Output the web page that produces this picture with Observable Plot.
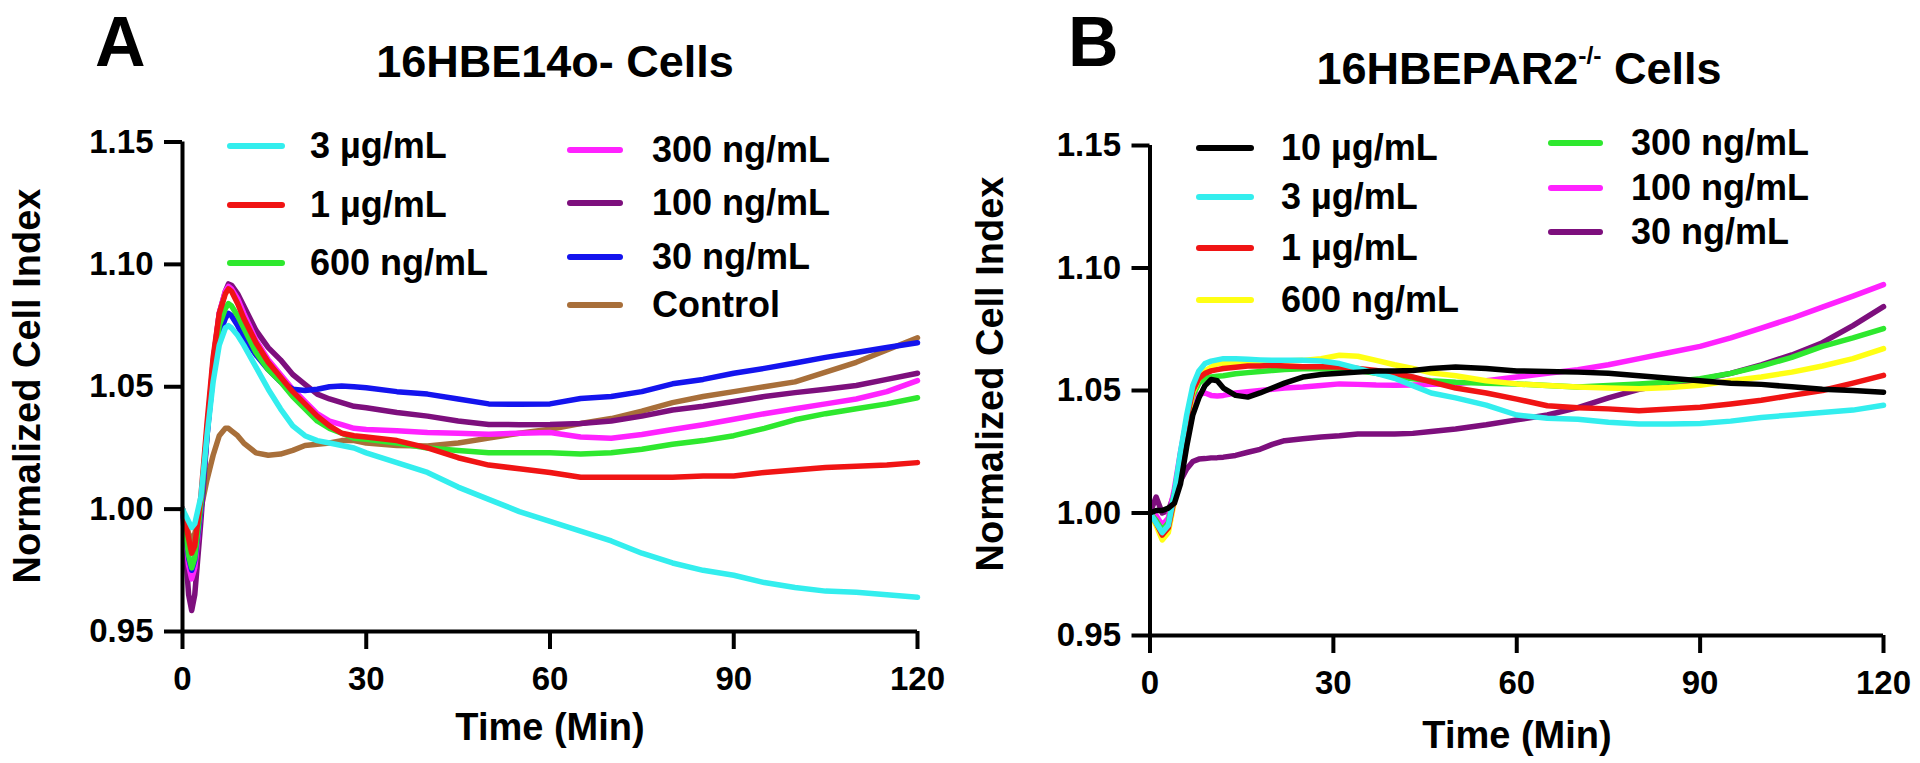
<!DOCTYPE html>
<html><head><meta charset="utf-8">
<script src="https://cdn.jsdelivr.net/npm/d3@7"></script>
<script src="https://cdn.jsdelivr.net/npm/@observablehq/plot@0.6"></script>
<style>
html,body{margin:0;padding:0;background:#fff;}
#root{position:relative;width:1920px;height:763px;overflow:hidden;font-family:"Liberation Sans",Arial,Helvetica,sans-serif;font-weight:bold;color:#000;}
.abs{position:absolute;white-space:nowrap;line-height:1;}
.svgwrap{position:absolute;top:0;}
.leg{position:absolute;display:flex;align-items:center;white-space:nowrap;line-height:1;}
.sw{border-radius:3px;}
</style></head><body><div id="root"></div>
<script>
// ---------------- Data: Panel A (16HBE14o- Cells) ----------------
const timeA = [0,1,1.5,2,3,4,5,6,7,7.5,8,9,10,12,14,16,18,20,22,24,26,28,30,35,40,45,50,55,60,65,70,75,80,85,90,95,100,105,110,115,120];
const a_3ug   = [1.000,0.995,0.9925,0.994,1.005,1.030,1.052,1.067,1.074,1.075,1.074,1.071,1.067,1.058,1.049,1.041,1.034,1.030,1.028,1.027,1.026,1.025,1.023,1.019,1.015,1.009,1.004,0.999,0.995,0.991,0.987,0.982,0.978,0.975,0.973,0.970,0.968,0.9665,0.966,0.965,0.964];
const a_1ug   = [1.000,0.988,0.982,0.985,1.005,1.035,1.062,1.080,1.088,1.090,1.089,1.084,1.078,1.068,1.060,1.054,1.048,1.043,1.038,1.034,1.031,1.030,1.0295,1.028,1.025,1.021,1.018,1.0165,1.015,1.013,1.013,1.013,1.013,1.0135,1.0135,1.015,1.016,1.017,1.0175,1.018,1.019];
const a_600ng = [1.000,0.981,0.976,0.980,1.002,1.032,1.058,1.075,1.082,1.084,1.083,1.079,1.074,1.064,1.057,1.052,1.046,1.041,1.036,1.033,1.031,1.029,1.0285,1.027,1.025,1.024,1.023,1.023,1.023,1.0225,1.023,1.0245,1.0265,1.028,1.030,1.033,1.0365,1.039,1.041,1.043,1.0455];
const a_300ng = [1.000,0.977,0.9715,0.976,1.000,1.032,1.060,1.080,1.089,1.091,1.090,1.086,1.080,1.069,1.061,1.055,1.049,1.044,1.039,1.036,1.0345,1.033,1.0325,1.032,1.0313,1.031,1.0306,1.031,1.0313,1.0295,1.029,1.0305,1.0325,1.0345,1.0367,1.039,1.041,1.043,1.045,1.048,1.0525];
const a_100ng = [1.000,0.965,0.9586,0.965,0.995,1.030,1.060,1.080,1.089,1.092,1.0915,1.088,1.083,1.073,1.066,1.061,1.055,1.051,1.047,1.045,1.0435,1.042,1.0414,1.0395,1.038,1.036,1.0346,1.0345,1.0346,1.035,1.036,1.038,1.0405,1.042,1.044,1.046,1.0476,1.049,1.0505,1.053,1.0555];
const a_30ng  = [1.000,0.980,0.975,0.979,1.000,1.030,1.055,1.071,1.078,1.080,1.079,1.075,1.070,1.063,1.057,1.052,1.049,1.0485,1.049,1.050,1.0503,1.050,1.0496,1.048,1.047,1.045,1.043,1.0428,1.043,1.0452,1.046,1.048,1.0512,1.053,1.0555,1.0575,1.0597,1.062,1.064,1.066,1.068];
const a_ctrl  = [1.000,0.990,0.987,0.990,1.000,1.012,1.022,1.030,1.033,1.033,1.032,1.030,1.027,1.023,1.022,1.0225,1.024,1.026,1.0265,1.027,1.028,1.028,1.027,1.026,1.0258,1.027,1.029,1.031,1.0326,1.035,1.037,1.040,1.0435,1.046,1.048,1.050,1.052,1.056,1.060,1.065,1.070];

// ---------------- Data: Panel B (16HBEPAR2-/- Cells) ----------------
const timeB = [0,1,2,3,4,5,6,7,8,9,10,11,12,14,16,18,20,22,25,28,31,34,37,40,43,46,50,55,60,65,70,75,80,85,90,95,100,105,110,115,120];
const b_10ug  = [1.000,1.001,1.001,1.002,1.004,1.012,1.027,1.040,1.047,1.052,1.0545,1.054,1.051,1.048,1.0473,1.049,1.051,1.053,1.0555,1.0565,1.057,1.0575,1.058,1.058,1.0582,1.059,1.0596,1.059,1.058,1.0578,1.0575,1.057,1.056,1.055,1.054,1.053,1.0525,1.0515,1.0505,1.050,1.0493];
const b_3ug   = [1.000,0.996,0.992,0.995,1.008,1.025,1.040,1.052,1.058,1.061,1.062,1.0625,1.063,1.063,1.0628,1.0625,1.0623,1.0623,1.0623,1.062,1.061,1.059,1.057,1.055,1.052,1.049,1.047,1.044,1.040,1.0387,1.0383,1.037,1.0363,1.0363,1.0365,1.0375,1.039,1.040,1.041,1.042,1.044];
const b_1ug   = [1.000,0.996,0.991,0.994,1.006,1.022,1.038,1.050,1.055,1.057,1.058,1.0585,1.059,1.0595,1.060,1.060,1.0603,1.060,1.0597,1.0597,1.0596,1.059,1.0582,1.057,1.0555,1.0535,1.051,1.049,1.0465,1.0438,1.043,1.0425,1.0417,1.0424,1.0432,1.0445,1.046,1.048,1.050,1.053,1.0562];
const b_600ng = [1.000,0.995,0.989,0.992,1.005,1.021,1.036,1.049,1.055,1.058,1.0595,1.061,1.061,1.0613,1.0615,1.0616,1.0616,1.062,1.0623,1.063,1.0644,1.064,1.0623,1.0605,1.059,1.0572,1.056,1.054,1.0527,1.052,1.0514,1.051,1.0507,1.0512,1.0521,1.054,1.0555,1.0575,1.060,1.063,1.0671];
const b_300ng = [1.000,0.997,0.993,0.996,1.008,1.024,1.038,1.048,1.053,1.055,1.0555,1.0558,1.056,1.0568,1.0573,1.0578,1.0582,1.0586,1.0589,1.0589,1.0587,1.0582,1.057,1.0558,1.0548,1.054,1.0534,1.053,1.0527,1.052,1.0514,1.052,1.0527,1.0535,1.0548,1.057,1.060,1.0635,1.068,1.0715,1.0753];
const b_100ng = [1.000,0.999,0.995,0.998,1.010,1.025,1.038,1.046,1.0485,1.049,1.048,1.0478,1.048,1.049,1.0495,1.050,1.0505,1.051,1.0514,1.052,1.0527,1.0525,1.0522,1.0521,1.0522,1.0525,1.0527,1.054,1.0555,1.057,1.0585,1.0605,1.063,1.0655,1.068,1.0715,1.0755,1.0795,1.084,1.0885,1.0932];
const b_30ng  = [1.000,1.0065,1.000,1.001,1.008,1.0133,1.018,1.021,1.022,1.0222,1.0225,1.0226,1.0228,1.0235,1.0248,1.026,1.028,1.0295,1.0303,1.031,1.0315,1.0322,1.0322,1.0322,1.0325,1.0333,1.0343,1.036,1.038,1.040,1.043,1.047,1.0505,1.0525,1.0545,1.057,1.0605,1.0645,1.0695,1.0765,1.0842];

// ---------------- Labels / ticks ----------------
const xTicks = [0, 30, 60, 90, 120];
const yTicks = [0.95, 1.00, 1.05, 1.10, 1.15];
const xLabel = "Time (Min)";
const yLabel = "Normalized Cell Index";

const namesA  = ["3 µg/mL","1 µg/mL","600 ng/mL","300 ng/mL","100 ng/mL","30 ng/mL","Control"];
const colorsA = ["#33eeee","#f01414","#2ee82e","#ff22ff","#7d0f7d","#1414ee","#a86f3a"];
const valuesA = [a_3ug, a_1ug, a_600ng, a_300ng, a_100ng, a_30ng, a_ctrl];
const drawOrderA = ["Control","100 ng/mL","300 ng/mL","30 ng/mL","600 ng/mL","1 µg/mL","3 µg/mL"];

const namesB  = ["10 µg/mL","3 µg/mL","1 µg/mL","600 ng/mL","300 ng/mL","100 ng/mL","30 ng/mL"];
const colorsB = ["#000000","#33eeee","#f01414","#ffff14","#2ee82e","#ff22ff","#7d0f7d"];
const valuesB = [b_10ug, b_3ug, b_1ug, b_600ng, b_300ng, b_100ng, b_30ng];
const drawOrderB = ["30 ng/mL","100 ng/mL","300 ng/mL","600 ng/mL","1 µg/mL","3 µg/mL","10 µg/mL"];

const FONT = '"Liberation Sans", Arial, Helvetica, sans-serif';
const root = document.getElementById("root");

function buildRows(time, names, values, order) {
  const rows = [];
  for (const n of order) {
    const vals = values[names.indexOf(n)];
    time.forEach((t, i) => rows.push({t, v: vals[i], name: n}));
  }
  return rows;
}

function makePanel(cfg) {
  const rows = buildRows(cfg.time, cfg.names, cfg.values, cfg.order);
  const chart = Plot.plot({
    width: 960, height: 763,
    marginLeft: cfg.ml, marginRight: cfg.mr, marginTop: cfg.mt, marginBottom: cfg.mb,
    x: {domain: [0, 120]},
    y: {domain: [0.95, 1.15]},
    color: {domain: cfg.names, range: cfg.colors},
    style: {fontFamily: FONT, fontWeight: "bold", fontSize: "33px", background: "transparent", overflow: "visible", color: "#000"},
    marks: [
      Plot.lineY(rows, {x: "t", y: "v", z: "name", stroke: "name", strokeWidth: 5.5, strokeLinejoin: "round", strokeLinecap: "round"}),
      Plot.ruleX([0], {strokeWidth: 4, stroke: "#000"}),
      Plot.ruleY([0.95], {strokeWidth: 4, stroke: "#000"}),
      Plot.axisY({ticks: yTicks, tickSize: 18, tickPadding: 11, tickFormat: d3.format(".2f"), strokeWidth: 4, label: null, fontSize: 33, fontWeight: "bold"}),
      Plot.axisX({ticks: xTicks, tickSize: 18, tickPadding: cfg.xpad, tickFormat: d3.format("d"), strokeWidth: 4, label: null, fontSize: 33, fontWeight: "bold"})
    ]
  });
  const wrap = document.createElement("div");
  wrap.className = "svgwrap";
  wrap.style.left = cfg.left + "px";
  wrap.appendChild(chart);
  root.appendChild(wrap);
}

function addText(html, x, baseline, fs, anchor, lh) {
  const d = document.createElement("div");
  d.className = "abs";
  d.style.fontSize = fs + "px";
  d.innerHTML = html;
  const L = lh || 1;
  d.style.lineHeight = String(L);
  const base = (L - 1.117) / 2 + 0.905;
  d.style.top = (baseline - base * fs) + "px";
  d.style.left = x + "px";
  if (anchor === "middle") d.style.transform = "translateX(-50%)";
  root.appendChild(d);
  return d;
}

function addYLabel(text, cx, cy, fs) {
  const d = document.createElement("div");
  d.className = "abs";
  d.style.fontSize = fs + "px";
  d.textContent = text;
  d.style.left = cx + "px";
  d.style.top = cy + "px";
  d.style.transform = "translate(-50%,-50%) rotate(-90deg)";
  root.appendChild(d);
}

function addLegend(names, colors, x1, x2, xt, ys, fs) {
  names.forEach((n, i) => {
    const d = document.createElement("div");
    d.className = "leg";
    d.style.left = x1 + "px";
    d.style.top = (ys[i] - 25) + "px";
    d.style.height = "50px";
    d.style.fontSize = fs + "px";
    const sw = document.createElement("div");
    sw.className = "sw";
    sw.style.width = (x2 - x1) + "px";
    sw.style.height = "6px";
    sw.style.background = colors[i];
    const t = document.createElement("span");
    t.textContent = n;
    t.style.marginLeft = (xt - x2) + "px";
    d.appendChild(sw); d.appendChild(t);
    root.appendChild(d);
  });
}

// Panel A
makePanel({left: 0, ml: 182, mr: 43, mt: 141.5, mb: 132, xpad: 17, time: timeA, names: namesA, colors: colorsA, values: valuesA, order: drawOrderA});
// Panel B
makePanel({left: 960, ml: 189.5, mr: 37, mt: 145, mb: 128, xpad: 17, time: timeB, names: namesB, colors: colorsB, values: valuesB, order: drawOrderB});

// Panel letters & titles
addText("A", 95, 66, 70, "start", 1.2);
addText("B", 1068, 66, 70, "start", 1.2);
addText("16HBE14o- Cells", 555, 77, 45, "middle");
addText('16HBEPAR2<span style="font-size:0.55em;vertical-align:0.8em">-/-</span> Cells', 1519, 82, 45, "middle");

// Axis labels
addText(xLabel, 550, 740, 38, "middle");
addText(xLabel, 1517, 748, 38, "middle");
addYLabel(yLabel, 27, 386, 38);
addYLabel(yLabel, 990, 374, 38);

// Legends
addLegend(namesA.slice(0,3), colorsA.slice(0,3), 227, 285, 310, [146, 205, 263], 36);
addLegend(namesA.slice(3), colorsA.slice(3), 567, 623, 652, [150, 203, 257, 305], 36);
addLegend(namesB.slice(0,4), colorsB.slice(0,4), 1196, 1254, 1281, [148, 197, 248, 300], 36);
addLegend(namesB.slice(4), colorsB.slice(4), 1548, 1603, 1631, [143, 188, 232], 36);
</script>
</body></html>
